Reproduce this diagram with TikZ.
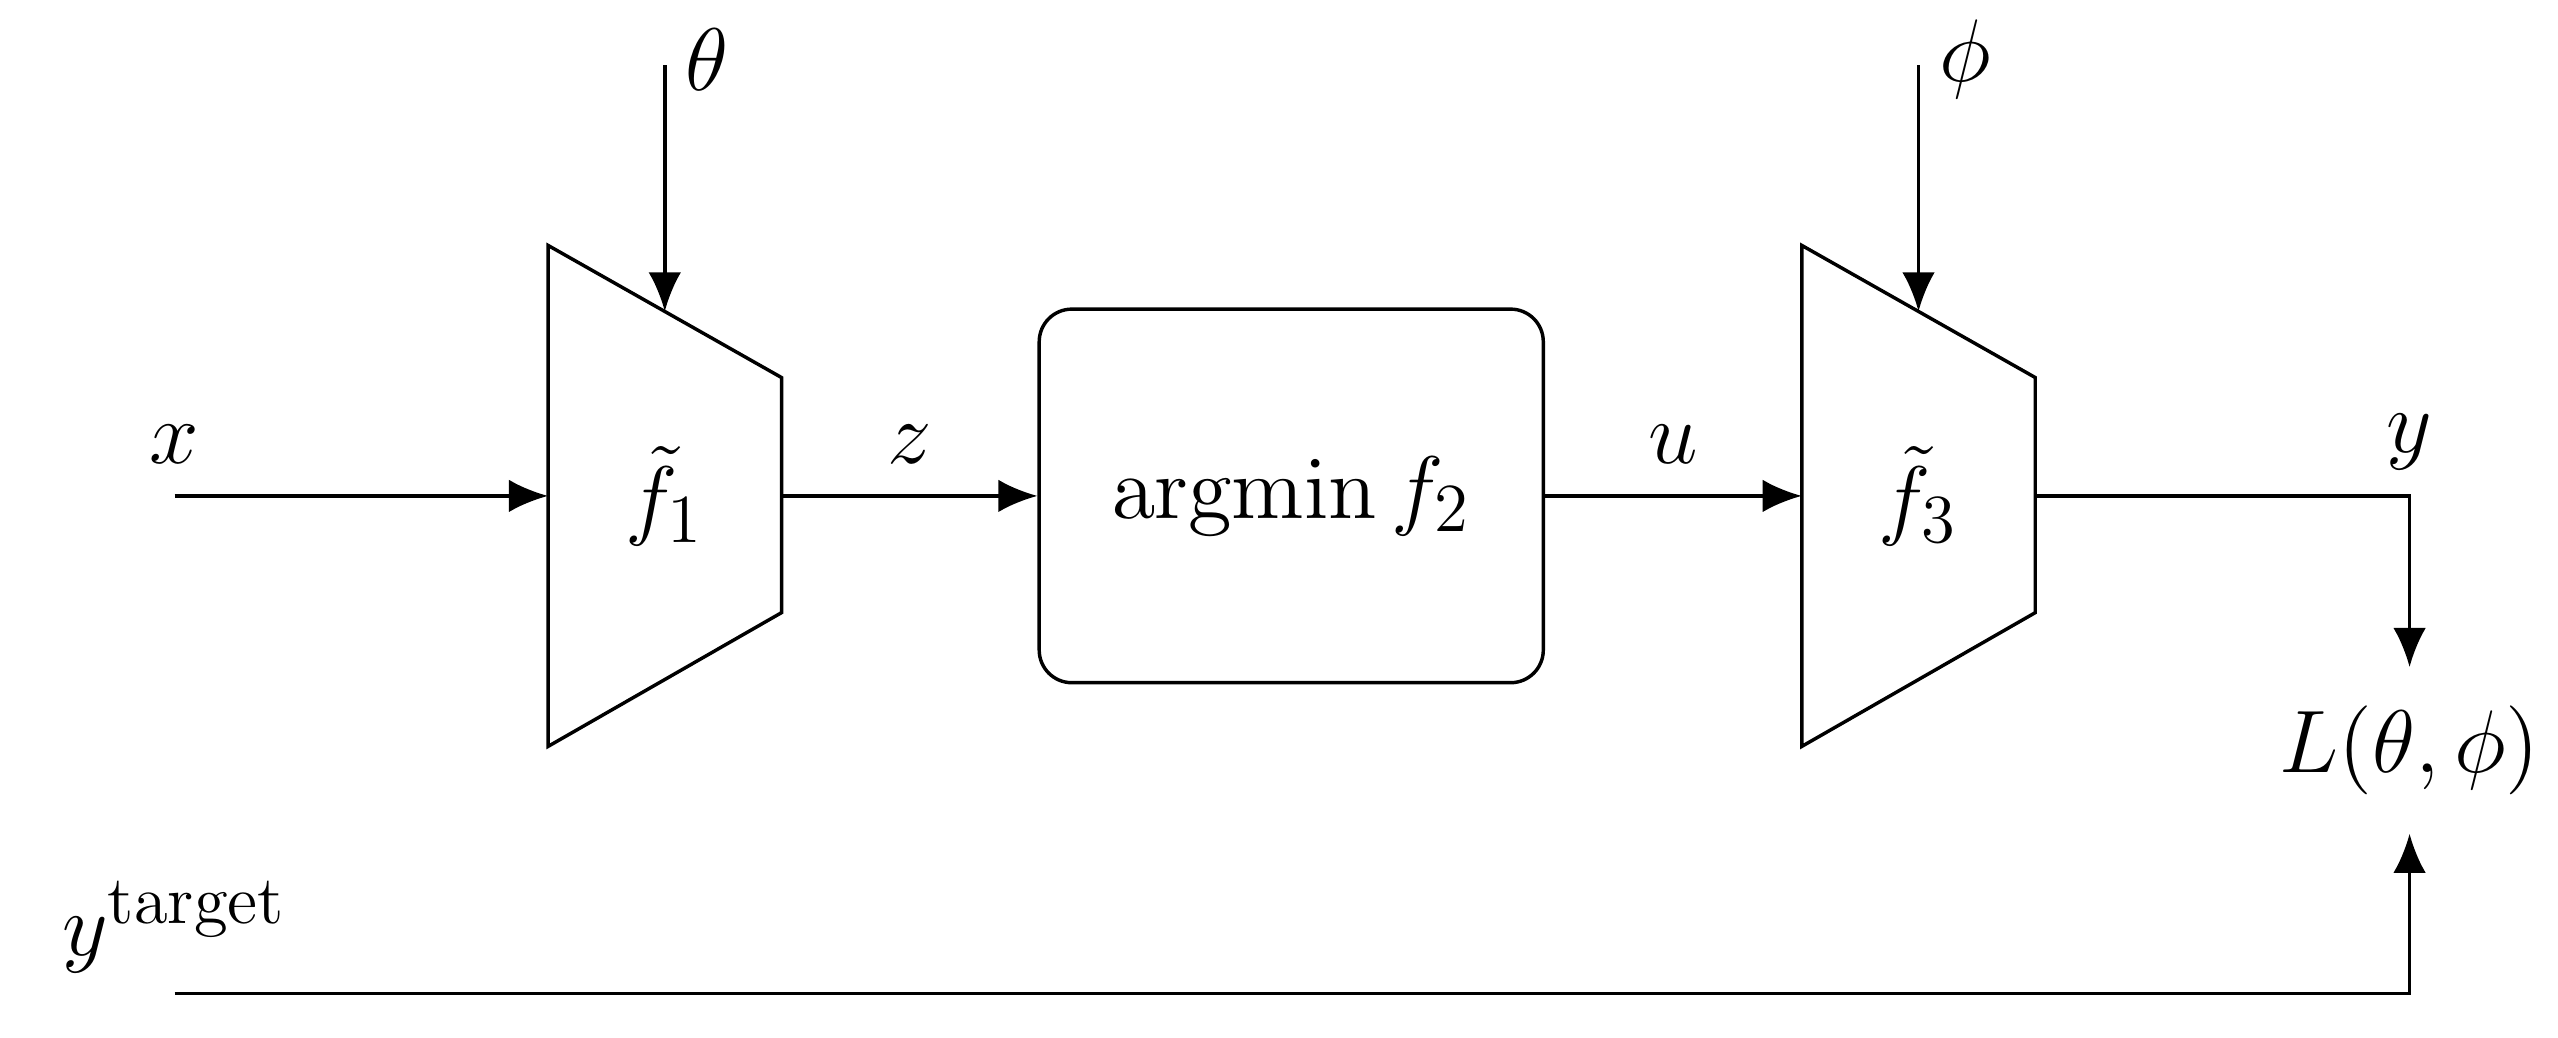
\RequirePackage{fix-cm}
\documentclass[tikz,border=0pt]{standalone}
\usepackage{amssymb}
\usepackage{amsmath}
\usepackage{tikz}
\usetikzlibrary{arrows.meta, positioning, calc}
\DeclareMathSizes{15.5}{15.5}{12}{9}

\begin{document}
\begin{tikzpicture}[
  font=\fontsize{15.5}{19}\selectfont,
  >={Latex[length=2.4mm,width=2mm]},
  line width=0.6pt,
  every node/.style={align=center},
  optbox/.style={draw, rounded corners=2mm, minimum width=3.09cm,
                 minimum height=2.29cm},
  trapbox/.style={minimum width=1.41cm, minimum height=3.05cm, inner sep=0pt},
  lbl/.style={above, yshift=2pt},
  arr/.style={->}
]

\useasboundingbox (0,0) rectangle (15.68,6.36);

%% ── Blocks ────────────────────────────────────────────────────────────────
\node[trapbox] (f1)   at (4.075, 3.32) {$\tilde{f}_1$};
\node[optbox]  (opt)  at (7.915, 3.32) {$\operatorname{argmin} f_2$};
\node[trapbox] (f3)   at (11.76, 3.32) {$\tilde{f}_3$};
\node[minimum height=1cm] (loss) at (14.77, 1.76) {$L(\theta, \phi)$};

\foreach \t in {f1, f3}
  \draw (\t.north west) -- (\t.south west) -- ([yshift=0.82cm]\t.south east)
        -- ([yshift=-0.81cm]\t.north east) -- cycle;

%% ── Inputs ────────────────────────────────────────────────────────────────
\coordinate (xin)  at (1.07, 3.32);
\coordinate (thin) at (4.075, 5.96);
\coordinate (phin) at (11.76, 5.96);
\coordinate (tin)  at (1.07, 0.27);

\draw[arr] (thin) node[right, yshift=1pt] {$\theta$} -- ([yshift=-0.405cm]f1.north);
\draw[arr] (phin) node[right, yshift=1pt] {$\phi$}   -- ([yshift=-0.405cm]f3.north);

%% ── Main chain ────────────────────────────────────────────────────────────
\draw[arr] (xin) node[lbl] {$x$} -- (f1.west);
\draw[arr] (f1.east) -- node[lbl] {$z$} (opt.west);
\draw[arr] (opt.east) -- node[lbl] {$u$} (f3.west);
\draw[arr] (f3.east) -| node[pos=0.5, above, yshift=1pt] {$y$} (loss.north);

%% ── Target ────────────────────────────────────────────────────────────────
\draw[arr] (tin) node[above] {$y^{\text{target}}$} -| (loss.south);

\end{tikzpicture}
\end{document}
